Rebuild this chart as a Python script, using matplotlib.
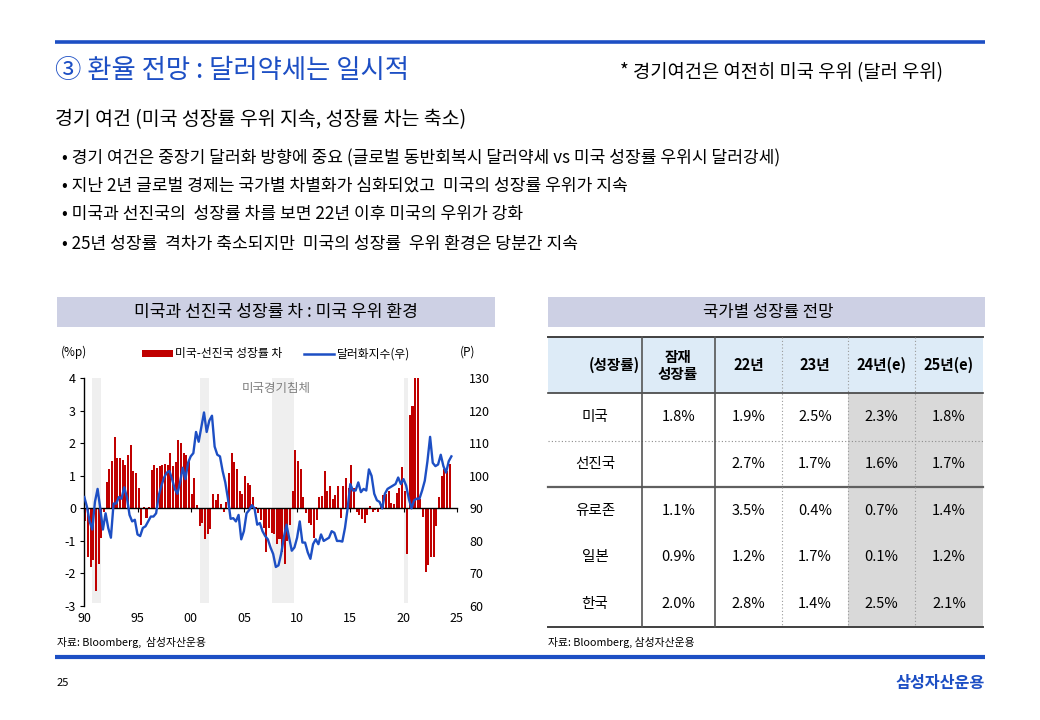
import matplotlib
matplotlib.use("Agg")
import matplotlib.pyplot as plt
import matplotlib.patches as mpatches
from matplotlib.lines import Line2D
import matplotlib.transforms as mtransforms
import numpy as np

plt.rcParams["font.family"] = ["Noto Sans CJK KR", "DejaVu Sans"]
plt.rcParams["axes.unicode_minus"] = False

W, H = 1040, 720
BLUE = "#1D4FC4"
RED = "#C00000"
HEAD_FILL = "#CDD0E4"

# --- data -------------------------------------------------------------
# US minus developed-market growth gap (%p), quarterly from 1990Q1
gap_start = 1990.0
gap = [
    -0.4, -1.5, -1.8, -1.6, -2.55, -1.7, -0.9, -0.1, 0.8, 1.2, 1.45, 2.2,
    1.55, 1.55, 1.5, 1.35, 1.65, 1.95, 1.15, 1.1, 0.62, -0.5, 0.03,
    -0.28, 0.05, 1.18, 1.32, 1.25, 1.3, 1.35, 1.38, 1.35, 1.7, 1.3, 1.42,
    2.1, 2.0, 1.7, 1.65, 1.45,
    0.45, 0.93, 0.12, -0.55, -0.45, -0.93, -0.78, -0.62, 0.45, 0.25, 0.45,
    0.15, -0.12, 0.2, 1.08, 1.7, 1.42, 1.2, 0.55, 0.45,
    1.0, 0.78, 0.72, 0.35, 0.05, -0.15, -0.35, -0.6, -1.35, -0.6, -0.75,
    -0.8, -1.1, -0.95, -1.35, -1.7, -1.0, -0.5, 0.55, 1.8,
    1.45, 1.22, 0.35, -0.15, -0.45, -0.5, -0.9, -0.35, 0.35, 0.37, 1.15,
    0.55, 0.68, 0.28, 0.42, 0.68, -0.28, 0.68, 0.95, 0.62,
    1.33, 0.62, -0.1, -0.2, -0.32, -0.45, -0.2, 0.07, -0.1, -0.05, -0.12,
    0.1, 0.42, 0.45, 0.55, 0.18, 0.15, 0.48, 0.62, 1.27,
    0.55, -1.4, 2.87, 3.15, 4.5, 4.5, 0.3, -0.25, -1.95, -1.75, -1.5, -1.5,
    -0.55, 0.35, 1.0, 1.2, 1.15, 1.37,
]

# dollar index (right axis), quarterly from 1990Q1
dxy_start = 1990.0
dxy = [
    93.5, 90.5, 86, 83.5, 92, 96, 90, 83.5, 88.5, 84, 81, 91.5,
    91.5, 93.5, 93, 96.5, 93.5, 88, 86, 86.5, 82, 81.5, 84, 84.5,
    86, 87.5, 87.5, 88.5, 94, 97, 99.5, 101, 101.5, 99, 96, 94.5,
    98, 102.5, 99, 104, 106, 107, 113.5, 110.5, 115, 119.5, 113.5, 117,
    118.5, 109, 106.5, 106, 101.5, 98, 93, 86.8, 87, 86, 88, 80.5,
    83, 88.5, 89.5, 91, 90, 85, 85.5, 83, 81.5, 80.5, 78, 76,
    72, 72.5, 76, 81, 85, 81, 77, 78, 81, 86, 79.5, 79.5,
    76.5, 74.5, 79, 80.5, 79, 82, 80, 80.5, 81, 83, 82.5, 80,
    80, 79.8, 84, 90, 97.5, 95.5, 95.5, 98, 95, 96, 95.5, 102,
    100, 94.5, 92.5, 92, 90, 94.5, 96, 96.5, 97, 97.5, 99.5, 97.5,
    99, 97, 93, 90, 92.5, 93, 93, 95.5, 98.5, 104.5, 112, 104,
    103, 103.5, 106.5, 103, 101, 104.5, 106,
]

recessions = [(1990.7, 1991.55), (2000.9, 2001.72), (2007.65, 2009.72), (2020.0, 2020.45)]

x_ticks = [1990, 1995, 2000, 2005, 2010, 2015, 2020, 2025]
x_tick_labels = ["90", "95", "00", "05", "10", "15", "20", "25"]

bullets = [
    "• 경기 여건은 중장기 달러화 방향에 중요 (글로벌 동반회복시 달러약세 vs 미국 성장률 우위시 달러강세)",
    "• 지난 2년 글로벌 경제는 국가별 차별화가 심화되었고  미국의 성장률 우위가 지속",
    "• 미국과 선진국의  성장률 차를 보면 22년 이후 미국의 우위가 강화",
    "• 25년 성장률  격차가 축소되지만  미국의 성장률  우위 환경은 당분간 지속",
]

tbl_rows = ["미국", "선진국", "유로존", "일본", "한국"]
tbl_potential = ["1.8%", "", "1.1%", "0.9%", "2.0%"]
tbl_y22 = ["1.9%", "2.7%", "3.5%", "1.2%", "2.8%"]
tbl_y23 = ["2.5%", "1.7%", "0.4%", "1.7%", "1.4%"]
tbl_y24e = ["2.3%", "1.6%", "0.7%", "0.1%", "2.5%"]
tbl_y25e = ["1.8%", "1.7%", "1.4%", "1.2%", "2.1%"]
tbl_year_heads = ["22년", "23년", "24년(e)", "25년(e)"]

# --- figure -------------------------------------------------------------
fig = plt.figure(figsize=(10.4, 7.2), dpi=100)
fig.patch.set_facecolor("white")

# pixel-coordinate layer for the slide furniture
deco = fig.add_axes([0, 0, 1, 1])
deco.set_xlim(0, W)
deco.set_ylim(H, 0)
deco.axis("off")
deco.set_zorder(0)

deco.plot([55, 985], [42, 42], color=BLUE, lw=2.6, solid_capstyle="butt")
deco.plot([55, 985], [657, 657], color=BLUE, lw=3.0, solid_capstyle="butt")

deco.text(55, 71, "③ 환율 전망 : 달러약세는 일시적", fontsize=19, color=BLUE,
          va="center", ha="left")
deco.text(620, 73, "* 경기여건은 여전히 미국 우위 (달러 우위)", fontsize=13.5,
          color="black", va="center", ha="left")
deco.text(55, 120, "경기 여건 (미국 성장률 우위 지속, 성장률 차는 축소)", fontsize=14,
          color="black", va="center", ha="left")
for i, line in enumerate(bullets):
    deco.text(62, [158, 186, 214, 244][i], line, fontsize=12.3, va="center", ha="left")

# section header boxes
deco.add_patch(mpatches.Rectangle((57, 297), 438, 30, facecolor=HEAD_FILL, edgecolor="none"))
deco.add_patch(mpatches.Rectangle((548, 297), 437, 30, facecolor=HEAD_FILL, edgecolor="none"))
deco.text(276, 312, "미국과 선진국 성장률 차 : 미국 우위 환경", fontsize=12.3, ha="center", va="center")
deco.text(768, 312, "국가별 성장률 전망", fontsize=12, ha="center", va="center")

# sources and footer
deco.text(57, 642, "자료: Bloomberg,  삼성자산운용", fontsize=7.8, ha="left", va="center")
deco.text(548, 642, "자료: Bloomberg, 삼성자산운용", fontsize=7.8, ha="left", va="center")
deco.text(57, 683, "25", fontsize=8, ha="left", va="center")
deco.text(985, 683, "삼성자산운용", fontsize=11.7, fontweight="bold", color=BLUE,
          ha="right", va="center")

# --- table ---------------------------------------------------------------
col_edges = [548, 642, 715, 782, 848, 915, 983]
row_edges = [337, 393, 441, 487, 534, 580, 627]
deco.add_patch(mpatches.Rectangle((548, 337), 435, 56, facecolor="#DDEBF7", edgecolor="none"))
deco.add_patch(mpatches.Rectangle((848, 393), 135, 234, facecolor="#D9D9D9", edgecolor="none"))

dark = "#404040"
deco.plot([548, 983], [337, 337], color=dark, lw=1.4)
deco.plot([548, 983], [393, 393], color=dark, lw=1.2)
deco.plot([548, 983], [441, 441], color="#8C8C8C", lw=0.8, ls=(0, (1, 2)))
deco.plot([548, 983], [487, 487], color="#606060", lw=1.6)
deco.plot([548, 983], [627, 627], color=dark, lw=1.4)
for cx in (642, 715):
    deco.plot([cx, cx], [337, 627], color="#555555", lw=1.2)
for cx in (782, 848, 915):
    deco.plot([cx, cx], [337, 627], color="#9A9A9A", lw=0.8, ls=(0, (1, 2)))

deco.text(640, 365, "(성장률)", fontsize=10.5, fontweight="bold", ha="right", va="center")
deco.text(678, 357, "잠재", fontsize=10.5, fontweight="bold", ha="center", va="center")
deco.text(678, 374, "성장률", fontsize=10.5, fontweight="bold", ha="center", va="center")
col_centers = [(col_edges[i] + col_edges[i + 1]) / 2 for i in range(len(col_edges) - 1)]
for head, cx in zip(tbl_year_heads, col_centers[2:]):
    deco.text(cx, 365, head, fontsize=10.5, fontweight="bold", ha="center", va="center")

row_centers = [417, 464, 511, 557, 604]
for r, name in enumerate(tbl_rows):
    cy = row_centers[r]
    deco.text(595, cy, name, fontsize=10.5, ha="center", va="center")
    vals = [tbl_potential[r], tbl_y22[r], tbl_y23[r], tbl_y24e[r], tbl_y25e[r]]
    for v, cx in zip(vals, col_centers[1:]):
        deco.text(cx, cy, v, fontsize=10.5, ha="center", va="center")

# --- chart ---------------------------------------------------------------
left, right, top, bottom = 84.3, 456.7, 378.3, 606.0
ax = fig.add_axes([left / W, 1 - bottom / H, (right - left) / W, (bottom - top) / H])
ax.set_zorder(2)
ax.patch.set_alpha(0)

ax.set_xlim(1990, 2025)
ax.set_ylim(-3, 4)
for a, b in recessions:
    ax.axvspan(a, b, ymin=0.012, ymax=1, color="#EFEFEF", zorder=0, lw=0)

bar_x = gap_start + 0.25 * np.arange(len(gap))
ax.bar(bar_x, gap, width=0.19, align="edge", color=RED, zorder=2)

for side in ("top", "right"):
    ax.spines[side].set_visible(False)
ax.spines["bottom"].set_position(("data", 0))
ax.spines["bottom"].set_zorder(3)
ax.spines["bottom"].set_linewidth(1.0)
ax.spines["left"].set_linewidth(1.0)
ax.set_yticks(range(-3, 5))
ax.tick_params(axis="y", direction="out", length=3, labelsize=9, pad=3)
ax.set_xticks(x_ticks)
ax.tick_params(axis="x", direction="out", length=3, labelbottom=False)
lbl_tr = mtransforms.blended_transform_factory(ax.transData, ax.transAxes)
for xt, lab in zip(x_ticks, x_tick_labels):
    ax.text(xt, -0.055, lab, transform=lbl_tr, fontsize=9, ha="center", va="center")

ax.text(2008.0, 3.7, "미국경기침체", fontsize=9, color="#808080", ha="center", va="center")

ax2 = ax.twinx()
dxy_x = dxy_start + 0.25 * np.arange(len(dxy))
ax2.plot(dxy_x, dxy, color=BLUE, lw=1.7, zorder=4)
ax2.set_ylim(60, 130)
ax2.set_yticks(range(60, 131, 10))
for s in ax2.spines.values():
    s.set_visible(False)
ax2.tick_params(axis="y", length=0, labelsize=9, pad=9)

fig.text(74 / W, 1 - 352 / H, "(%p)", fontsize=8.5, ha="center", va="center")
fig.text(468 / W, 1 - 352 / H, "(P)", fontsize=8.5, ha="center", va="center")

handles = [mpatches.Patch(facecolor=RED, edgecolor="none"),
           Line2D([0], [0], color=BLUE, lw=1.8)]
leg = ax2.legend(handles, ["미국-선진국 성장률 차", "달러화지수(우)"], ncol=2,
                 loc="center", bbox_to_anchor=(276 / W, 1 - 354 / H),
                 bbox_transform=fig.transFigure, frameon=False, fontsize=8.5,
                 handlelength=2.6, handleheight=0.6, handletextpad=0.2,
                 columnspacing=1.8)

fig.savefig("out.png", dpi=100)
